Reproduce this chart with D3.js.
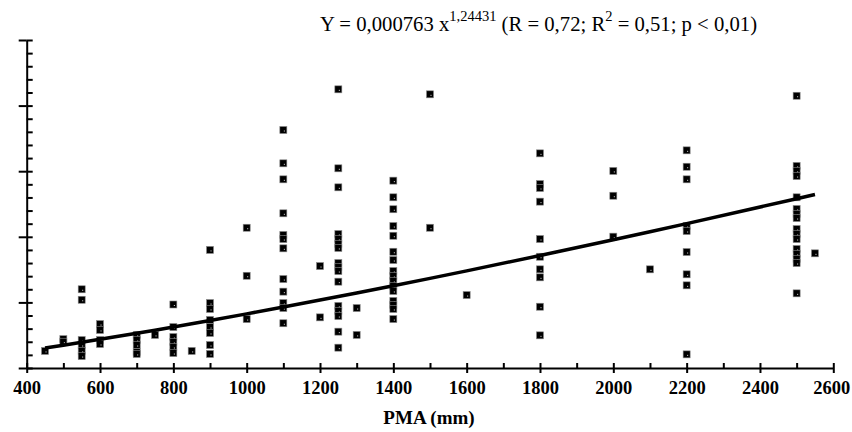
<!DOCTYPE html>
<html>
<head>
<meta charset="utf-8">
<script src="https://cdn.jsdelivr.net/npm/d3@7"></script>
<style>
  body { margin: 0; background: #fff; }
  svg text { font-family: "Liberation Serif", "Times New Roman", serif; }
  .axis path, .axis line { stroke: #000; stroke-width: 2; }
</style>
</head>
<body>
<div id="chart"></div>
<script>
// PMA levels (mm) and the y values of the points sitting on each level
var pmaLevels = [450, 500, 550, 600, 700, 750, 800, 850, 900, 1000, 1100, 1200, 1250, 1300,
                 1400, 1500, 1600, 1800, 2000, 2100, 2200, 2500, 2550];
var yByLevel = [
  [1.3],
  [2.2, 2.0],
  [6.0, 5.2, 2.13, 1.75, 1.3, 0.91],
  [3.35, 2.9, 2.13, 1.83],
  [2.52, 2.13, 1.75, 1.22, 1.07],
  [2.52],
  [4.84, 3.12, 2.36, 1.98, 1.6, 1.14],
  [1.3],
  [9.0, 4.95, 4.5, 3.66, 3.12, 2.67, 1.75, 1.07],
  [10.69, 7.03, 3.73],
  [18.14, 15.6, 14.38, 11.79, 10.14, 9.83, 9.12, 6.78, 5.82, 4.95, 4.57, 3.41],
  [7.77, 3.86],
  [21.24, 15.22, 13.77, 10.21, 9.83, 9.45, 9.15, 8.0, 7.7, 7.39, 6.58, 4.73, 4.34, 3.96, 2.77, 1.55],
  [4.57, 2.52],
  [14.28, 13.01, 12.1, 10.82, 10.08, 8.86, 8.23, 7.39, 7.01, 6.63, 6.25, 5.87, 5.11, 4.8, 4.5, 3.73],
  [20.86, 10.69],
  [5.56],
  [16.36, 14.02, 13.72, 12.68, 9.83, 8.48, 7.52, 6.91, 4.67, 2.49],
  [15.02, 13.13, 10.01],
  [7.52],
  [16.59, 15.34, 14.38, 10.82, 10.44, 8.84, 7.14, 6.3, 1.04],
  [20.75, 15.4, 15.02, 14.63, 13.01, 12.12, 11.74, 11.43, 10.59, 10.21, 9.83, 9.07, 8.69, 8.31, 8.0, 5.69],
  [8.74]
];
var xMajorTicks = d3.range(400, 2601, 200);
var xMinorTicks = d3.range(400, 2601, 100);
var yMajorTicks = d3.range(0, 26, 5);
var yMinorTicks = d3.range(0, 26, 1);

// fit from the caption
var fitA = 0.000763, fitB = 1.24431;

var iWidth = 852, iHeight = 432;

var points = [];
pmaLevels.forEach(function (px, i) {
  yByLevel[i].forEach(function (v) { points.push({x: px, y: v}); });
});

var svg = d3.select('#chart').append('svg')
    .attr('width', iWidth)
    .attr('height', iHeight);

var x = d3.scaleLinear().domain([400, 2600]).range([26.7, 833.3]);
var y = d3.scaleLinear().domain([0, 25]).range([368, 40]);

// x axis: minor ticks above, majors cross the line
svg.append('g').attr('class', 'axis')
    .attr('transform', 'translate(0,' + y(0) + ')')
    .call(d3.axisTop(x).tickValues(xMinorTicks).tickSize(5).tickSizeOuter(0).tickFormat(''));
var gx = svg.append('g').attr('class', 'axis')
    .attr('transform', 'translate(0,' + y(0) + ')')
    .call(d3.axisBottom(x).tickValues(xMajorTicks).tickSize(5).tickSizeOuter(0)
      .tickPadding(8).tickFormat(d3.format('d')));
gx.select('.domain').remove();
gx.selectAll('text')
    .style('font-size', '18.5px').style('font-weight', 'bold').attr('fill', '#000');
// last label sits against the right edge
gx.selectAll('text').filter(function (d) { return d === 2600; }).attr('dx', -2);

// y axis: minor ticks right, majors cross
svg.append('g').attr('class', 'axis')
    .attr('transform', 'translate(' + x(400) + ',0)')
    .call(d3.axisRight(y).tickValues(yMinorTicks).tickSize(6).tickSizeOuter(0).tickFormat(''));
var gy = svg.append('g').attr('class', 'axis')
    .attr('transform', 'translate(' + x(400) + ',0)')
    .call(d3.axisLeft(y).tickValues(yMajorTicks).tickSize(8).tickSizeOuter(0).tickFormat(''));
gy.select('.domain').remove();

svg.append('text')
    .attr('x', 429).attr('y', 424)
    .attr('text-anchor', 'middle')
    .style('font-size', '19px').style('font-weight', 'bold')
    .text('PMA (mm)');

// caption
var cap = svg.append('text')
    .attr('x', 320).attr('y', 31)
    .style('font-size', '20.7px');
cap.append('tspan').text('Y = 0,000763 x');
cap.append('tspan').attr('dy', -10).style('font-size', '14.5px').text('1,24431');
cap.append('tspan').attr('dy', 10).text(' (R = 0,72; R');
cap.append('tspan').attr('dy', -10).style('font-size', '14.5px').text('2');
cap.append('tspan').attr('dy', 10).text(' = 0,51;  p < 0,01)');

// points
var node = svg.append('g').selectAll('.pt')
    .data(points)
  .enter().append('g')
    .attr('class', 'pt')
    .attr('transform', function (d) { return 'translate(' + x(d.x) + ',' + y(d.y) + ')'; });
node.append('rect')
    .attr('x', -3.5).attr('y', -3.5).attr('width', 7).attr('height', 7)
    .attr('fill', '#000').attr('stroke', '#888').attr('stroke-width', 0.6);
node.append('rect')
    .attr('x', 0.5).attr('y', 0.5).attr('width', 1).attr('height', 1)
    .attr('fill', '#ddd');

// fit line
var line = d3.line()
    .x(function (d) { return x(d); })
    .y(function (d) { return y(fitA * Math.pow(d, fitB)); });
svg.append('path')
    .datum(pmaLevels)
    .attr('d', line)
    .attr('fill', 'none')
    .attr('stroke', '#000')
    .attr('stroke-width', 3.5);
</script>
</body>
</html>
